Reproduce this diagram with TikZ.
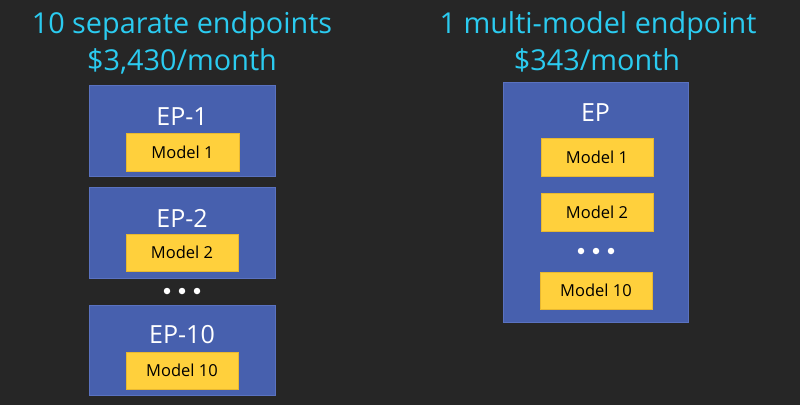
\documentclass[tikz,border=0pt]{standalone}
\usepackage{fontspec}
\setmainfont{Open Sans}
\definecolor{bg}{HTML}{262626}
\definecolor{epblue}{HTML}{4760AE}
\definecolor{epedge}{HTML}{5A72C0}
\definecolor{myellow}{HTML}{FFD03C}
\definecolor{yedge}{HTML}{E8B830}
\definecolor{titlecyan}{HTML}{2BCBF0}
\begin{document}
\begin{tikzpicture}[x=1pt,y=-1pt,
  title/.style={text=titlecyan,font=\fontsize{28.8}{32}\selectfont,inner sep=0pt,anchor=base},
  epbox/.style={fill=epblue,draw=epedge,line width=0.8pt,inner sep=0pt},
  eplabel/.style={text=white,font=\fontsize{25}{28}\selectfont,inner sep=0pt,anchor=base},
  modelbox/.style={fill=myellow,draw=yedge,line width=0.6pt,inner sep=0pt,text=black,font=\fontsize{16.5}{18}\selectfont},
  dot/.style={circle,fill=white,inner sep=0pt,minimum size=6.5pt}
]
\fill[bg] (0,0) rectangle (800,405);
\useasboundingbox (0,0) rectangle (800,405);
% left titles
\node[title] (t1) at (182,33) {10 separate endpoints};
\node[title] (t2) at (182,70) {\$3,430/month};
% left boxes
\node[epbox,minimum width=186pt,minimum height=91pt] (ep1) at (182,130.5) {};
\node[eplabel] (ep1l) at (182,125) {EP-1};
\node[modelbox,minimum width=113pt,minimum height=38pt] (m1) at (182.5,152) {Model 1};
\node[epbox,minimum width=186pt,minimum height=91pt] (ep2) at (182,232.5) {};
\node[eplabel] (ep2l) at (182,227) {EP-2};
\node[modelbox,minimum width=112pt,minimum height=37pt] (m2) at (182,252.5) {Model 2};
\node[dot] (d1) at (167,291) {};
\node[dot] (d2) at (182,291) {};
\node[dot] (d3) at (197,291) {};
\node[epbox,minimum width=186pt,minimum height=90pt] (ep10) at (182,350) {};
\node[eplabel] (ep10l) at (182,343) {EP-10};
\node[modelbox,minimum width=112pt,minimum height=37pt] (m10) at (182,370.5) {Model 10};
% right titles
\node[title] (t3) at (598,33) {1 multi-model endpoint};
\node[title] (t4) at (597,70) {\$343/month};
% right box
\node[epbox,minimum width=185pt,minimum height=240pt] (ep) at (595.5,202) {};
\node[eplabel] (epl) at (595.5,121) {EP};
\node[modelbox,minimum width=112pt,minimum height=38pt] (r1) at (597,157) {Model 1};
\node[modelbox,minimum width=112pt,minimum height=38pt] (r2) at (597,212) {Model 2};
\node[dot] (e1) at (581,251) {};
\node[dot] (e2) at (596,251) {};
\node[dot] (e3) at (611,251) {};
\node[modelbox,minimum width=112pt,minimum height=37pt] (r10) at (596,290.5) {Model 10};
\end{tikzpicture}
\end{document}
